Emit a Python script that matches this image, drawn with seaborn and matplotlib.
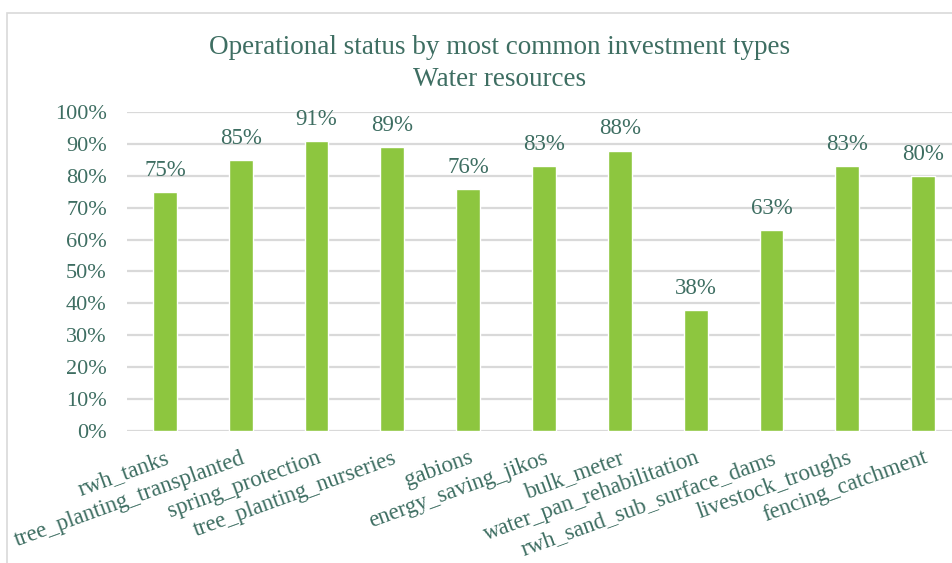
import matplotlib
matplotlib.use("Agg")
import matplotlib.pyplot as plt
import seaborn as sns
import pandas as pd
from matplotlib.patches import Rectangle
from matplotlib.ticker import PercentFormatter, MultipleLocator

# Share of investments that are operational, by investment type
categories = [
    "rwh_tanks",
    "tree_planting_transplanted",
    "spring_protection",
    "tree_planting_nurseries",
    "gabions",
    "energy_saving_jikos",
    "bulk_meter",
    "water_pan_rehabilitation",
    "rwh_sand_sub_surface_dams",
    "livestock_troughs",
    "fencing_catchment",
]
operational_pct = [75, 85, 91, 89, 76, 83, 88, 38, 63, 83, 80]

title_lines = ["Operational status by most common investment types", "Water resources"]

TEXT = "#3E6E62"
BAR = "#8DC63F"
GRID = "#D9D9D9"

sns.set_theme(style="white")
plt.rcParams["font.family"] = ["Liberation Serif", "DejaVu Serif"]

df = pd.DataFrame({"investment": categories, "share": [v / 100 for v in operational_pct]})

W, H = 953, 563
fig = plt.figure(figsize=(W / 100, H / 100), dpi=100)
fig.patch.set_facecolor("white")

# chart frame (top and left edges visible)
fig.patches.append(Rectangle((7 / W, -0.1), 1.2, (H - 13) / H + 0.1,
                             transform=fig.transFigure, fill=False,
                             edgecolor="#D9D9D9", linewidth=1.2))

ax = fig.add_axes([127 / W, 1 - 430.7 / H, (961 - 127) / W, 318.4 / H])
sns.barplot(data=df, x="investment", y="share", color=BAR, width=0.315,
            saturation=1, ax=ax, zorder=3)

ax.set_ylim(0, 1)
ax.set_xlim(-0.5, len(categories) - 0.5)
ax.yaxis.set_major_locator(MultipleLocator(0.1))
ax.yaxis.set_major_formatter(PercentFormatter(1.0, decimals=0))
ax.grid(axis="y", color=GRID, linewidth=1.6, zorder=0)
ax.set_axisbelow(True)
for s in ax.spines.values():
    s.set_visible(False)
ax.set_xlabel("")
ax.set_ylabel("")
ax.tick_params(axis="both", length=0, colors=TEXT, labelsize=16)
ax.tick_params(axis="y", pad=14.5)

ax.set_xticks(range(len(categories)))
ax.set_xticklabels(categories, rotation=20, ha="right", va="top",
                   rotation_mode="anchor", color=TEXT, fontsize=16.5)
ax.tick_params(axis="x", pad=12)

for i, v in enumerate(operational_pct):
    ax.annotate(f"{v}%", (i, v / 100), xytext=(0, 8), textcoords="offset points",
                ha="center", va="bottom", color=TEXT, fontsize=16.5)

fig.text(500 / W, 1 - 48 / H, title_lines[0], ha="center", va="center",
         color=TEXT, fontsize=19.5)
fig.text(500 / W, 1 - 80 / H, title_lines[1], ha="center", va="center",
         color=TEXT, fontsize=19.5)

fig.savefig("out.png", dpi=100, facecolor="white")
